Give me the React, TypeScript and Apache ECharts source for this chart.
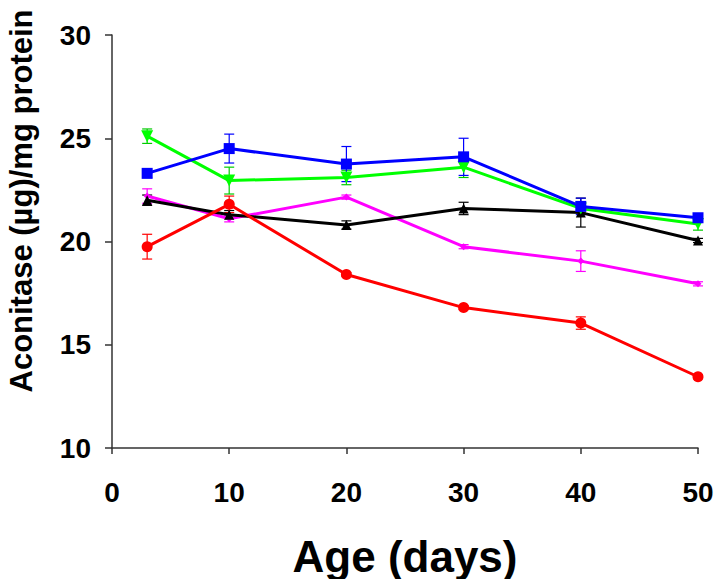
import React, { useEffect, useRef } from "react";
import * as echarts from "echarts";

const days = [3, 10, 20, 30, 40, 50];
const xTicks = [0, 10, 20, 30, 40, 50];
const yTicks = [10, 15, 20, 25, 30];

const blueVals = [23.3, 24.5, 23.75, 24.1, 21.7, 21.15];
const blueErr = [0.2, 0.7, 0.85, 0.9, 0.4, 0.15];
const greenVals = [25.1, 22.95, 23.1, 23.6, 21.6, 20.85];
const greenErr = [0.35, 0.65, 0.35, 0.5, 0.2, 0.3];
const blackVals = [22.0, 21.3, 20.8, 21.6, 21.4, 20.05];
const blackErr = [0.25, 0.2, 0.2, 0.3, 0.7, 0.1];
const magentaVals = [22.2, 21.1, 22.15, 19.75, 19.05, 17.95];
const magentaErr = [0.35, 0.15, 0.1, 0.1, 0.5, 0.1];
const redVals = [19.75, 21.8, 18.4, 16.8, 16.05, 13.45];
const redErr = [0.6, 0.4, 0.1, 0.1, 0.3, 0.1];

const FONT = "'Liberation Sans', Arial, sans-serif";

function errSeries(vals: number[], errs: number[], color: string) {
  return {
    type: "custom",
    data: days.map((d, i) => [d, vals[i] - errs[i], vals[i] + errs[i]]),
    renderItem: (params: any, api: any) => {
      const lo = api.coord([api.value(0), api.value(1)]);
      const hi = api.coord([api.value(0), api.value(2)]);
      const w = 5;
      const st = { stroke: color, lineWidth: 1.2 };
      return {
        type: "group",
        children: [
          { type: "line", shape: { x1: lo[0], y1: lo[1], x2: hi[0], y2: hi[1] }, style: st },
          { type: "line", shape: { x1: lo[0] - w, y1: lo[1], x2: lo[0] + w, y2: lo[1] }, style: st },
          { type: "line", shape: { x1: hi[0] - w, y1: hi[1], x2: hi[0] + w, y2: hi[1] }, style: st },
        ],
      };
    },
    z: 1,
    silent: true,
  };
}

function lineSeries(name: string, vals: number[], color: string, symbol: string, size: number, rotate = 0) {
  return {
    name,
    type: "line",
    data: days.map((d, i) => [d, vals[i]]),
    symbol,
    symbolSize: size,
    symbolRotate: rotate,
    showAllSymbol: true,
    lineStyle: { color, width: 3 },
    itemStyle: { color, borderWidth: 0 },
    z: 2,
  };
}

export default function App() {
  const ref = useRef<HTMLDivElement>(null);
  useEffect(() => {
    if (!ref.current) return;
    const chart = echarts.init(ref.current, null, { renderer: "svg" });
    chart.setOption({
      animation: false,
      backgroundColor: "#ffffff",
      grid: { left: 112, right: 20, top: 35, bottom: 131 },
      xAxis: {
        type: "value",
        min: xTicks[0],
        max: xTicks[xTicks.length - 1],
        interval: 10,
        splitLine: { show: false },
        axisLine: { onZero: false, lineStyle: { color: "#333", width: 1.5 } },
        axisTick: { show: true, length: 6, lineStyle: { color: "#333", width: 1.5 } },
        axisLabel: { color: "#000", fontSize: 28, fontWeight: "bold", fontFamily: FONT, margin: 30 },
      },
      yAxis: {
        type: "value",
        min: yTicks[0],
        max: yTicks[yTicks.length - 1],
        interval: 5,
        splitLine: { show: false },
        axisLine: { show: true, lineStyle: { color: "#333", width: 1.5 } },
        axisTick: { show: true, length: 7, lineStyle: { color: "#333", width: 1.5 } },
        axisLabel: { color: "#000", fontSize: 28, fontWeight: "bold", fontFamily: FONT, margin: 21 },
      },
      graphic: [
        {
          type: "text",
          x: 21,
          y: 201,
          rotation: Math.PI / 2,
          style: {
            text: "Aconitase (µg)/mg protein",
            fill: "#000",
            font: `bold 31px ${FONT}`,
            textAlign: "center",
            textVerticalAlign: "middle",
          },
        },
        {
          type: "text",
          x: 405,
          y: 556,
          style: {
            text: "Age (days)",
            fill: "#000",
            font: `bold 44px ${FONT}`,
            textAlign: "center",
            textVerticalAlign: "middle",
          },
        },
      ],
      series: [
        errSeries(magentaVals, magentaErr, "#ff00ff"),
        errSeries(blackVals, blackErr, "#000000"),
        errSeries(greenVals, greenErr, "#00cc00"),
        errSeries(blueVals, blueErr, "#0000ff"),
        errSeries(redVals, redErr, "#ff0000"),
        lineSeries("magenta", magentaVals, "#ff00ff", "diamond", 7),
        lineSeries("black", blackVals, "#000000", "triangle", 10),
        lineSeries("green", greenVals, "#00ff00", "triangle", 12, 180),
        lineSeries("blue", blueVals, "#0000ff", "rect", 11),
        lineSeries("red", redVals, "#ff0000", "circle", 11),
      ],
    });
    return () => chart.dispose();
  }, []);
  return <div ref={ref} style={{ width: 718, height: 579, position: "absolute", left: 0, top: 0 }} />;
}
